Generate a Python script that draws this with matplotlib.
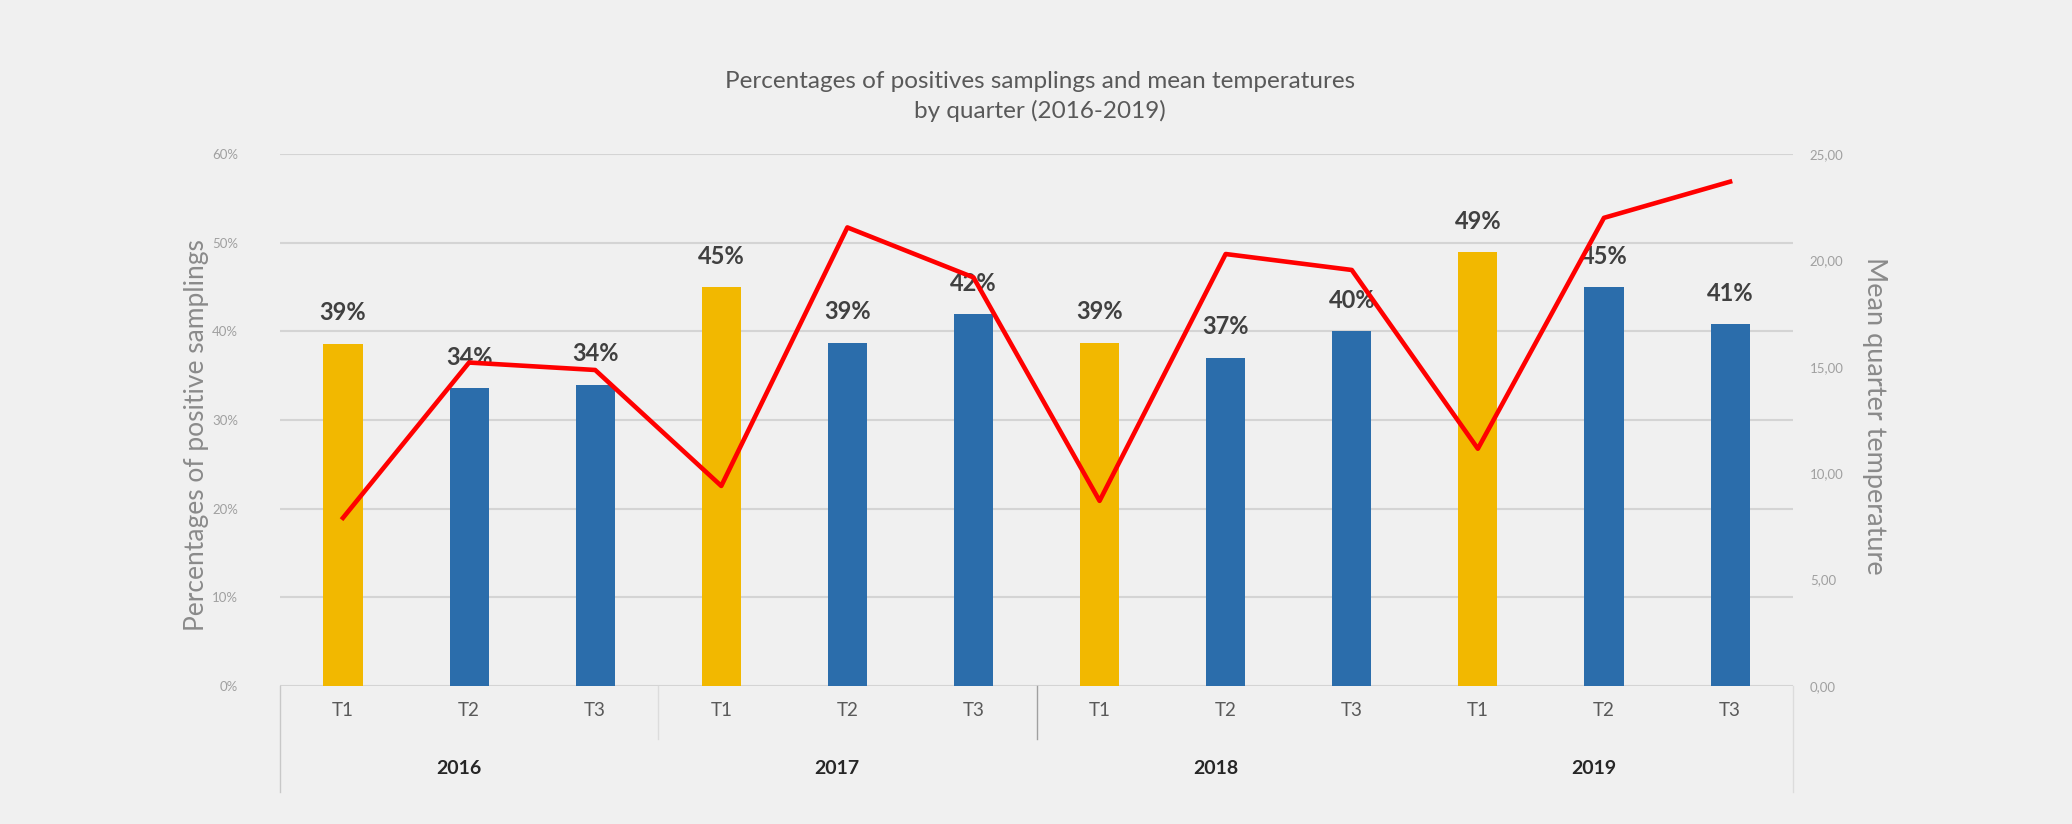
import numpy as np
import matplotlib.pyplot as plt
from matplotlib.ticker import FuncFormatter

# values
years = ["2016", "2017", "2018", "2019"]
quarters = ["T1", "T2", "T3"]
positives = [38.6, 33.6, 34.0, 45.0, 38.7, 41.9, 38.7, 37.0, 40.0, 48.9, 45.0, 40.8]
temperature = [7.9, 15.2, 14.85, 9.4, 21.55, 19.2, 8.7, 20.3, 19.55, 11.15, 22.0, 23.7]

yellow = "#f2b800"
blue = "#2b6dab"
bg = "#f0f0f0"

plt.rcParams['font.family'] = ['Lato', 'DejaVu Sans']

fig = plt.figure(figsize=(20.72, 8.24), dpi=100, facecolor=bg)
ax = fig.add_axes([0.1351, 0.1675, 0.7303, 0.6456])
ax.set_facecolor(bg)

n = len(positives)
x = np.arange(n)
qlabels = quarters * len(years)
colors = [yellow if q == "T1" else blue for q in qlabels]

ax.bar(x, positives, width=0.31, color=colors, zorder=2)
for xi, v in zip(x, positives):
    ax.annotate("%d%%" % round(v), (xi, v), xytext=(0, 14), textcoords="offset points",
                ha="center", va="bottom", fontsize=17, fontweight="bold", color="#404040")

ax.set_xlim(-0.5, n - 0.5)
ax.set_ylim(0, 60)
ax.set_yticks(np.arange(0, 61, 10))
ax.yaxis.set_major_formatter(FuncFormatter(lambda v, p: "%d%%" % v))
ax.tick_params(axis="y", length=0, pad=30, labelsize=9.5, labelcolor="#a0a0a0")
ax.yaxis.grid(True, color="#d4d4d4", lw=1.5, zorder=0)
ax.set_axisbelow(True)
for s in ax.spines.values():
    s.set_visible(False)

ax.set_xticks([])
for xi, q in zip(x, qlabels):
    ax.text(xi, -0.046, q, transform=ax.get_xaxis_transform(), ha="center", va="center",
            fontsize=13.5, color="#595959")
for i, yr in enumerate(years):
    ax.text(i * 3 + 0.92, -0.155, yr, transform=ax.get_xaxis_transform(), ha="center", va="center",
            fontsize=14, fontweight="bold", color="#262626")

# category group separators
tr = ax.get_xaxis_transform()
ax.plot([-0.5, -0.5], [0, -0.2], transform=tr, color="#c8c8c8", lw=1, clip_on=False)
ax.plot([n - 0.5, n - 0.5], [0, -0.2], transform=tr, color="#dcdcdc", lw=1, clip_on=False)
ax.plot([2.5, 2.5], [0, -0.1], transform=tr, color="#dcdcdc", lw=1, clip_on=False)
ax.plot([5.5, 5.5], [0, -0.1], transform=tr, color="#a0a0a0", lw=1, clip_on=False)

ax.set_ylabel("Percentages of positive samplings", fontsize=19, color="#8a8a8a", va="center")
ax.yaxis.set_label_coords(-0.055, 0.472)

ax2 = ax.twinx()
ax2.plot(x, temperature, color="#ff0000", lw=3.3, zorder=3)
ax2.set_ylim(0, 25)
ax2.set_yticks(np.arange(0, 26, 5))
ax2.yaxis.set_major_formatter(FuncFormatter(lambda v, p: ("%.2f" % v).replace(".", ",")))
ax2.tick_params(axis="y", length=0, pad=12, labelsize=9.5, labelcolor="#a0a0a0")
for s in ax2.spines.values():
    s.set_visible(False)
ax2.set_ylabel("Mean quarter temperature", fontsize=19.5, color="#8a8a8a", rotation=-90, va="center")
ax2.yaxis.set_label_coords(1.0535, 0.507)

fig.text(0.502, 0.883, "Percentages of positives samplings and mean temperatures\nby quarter (2016-2019)",
         ha="center", va="center", fontsize=17.5, color="#595959", linespacing=1.45)

fig.savefig("out.png", dpi=100, facecolor=bg)
